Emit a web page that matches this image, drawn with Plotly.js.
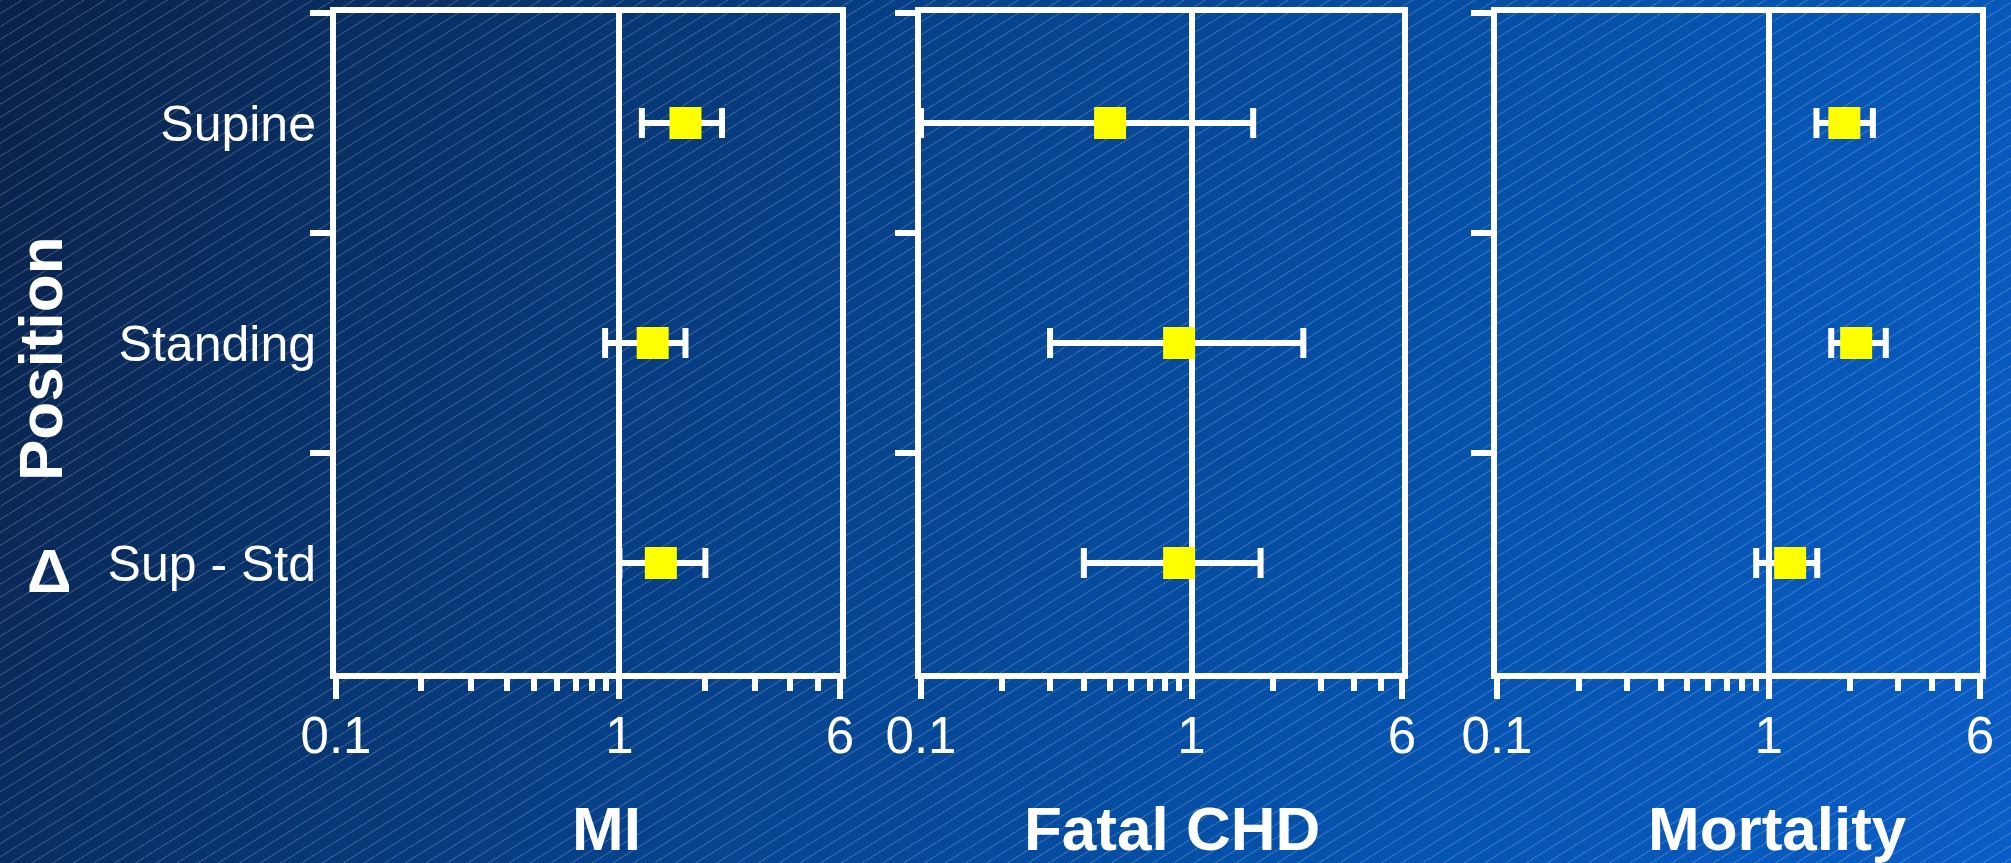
<!DOCTYPE html>
<html>
<head>
<meta charset="utf-8">
<script src="https://cdn.plot.ly/plotly-3.0.1.min.js"></script>
<style>
  html, body { margin: 0; padding: 0; width: 2011px; height: 863px; overflow: hidden; }
  body {
    background:
      repeating-linear-gradient(148deg, rgba(255,255,255,0.16) 0px, rgba(255,255,255,0.16) 1px, rgba(255,255,255,0) 1.6px, rgba(255,255,255,0) 11px),
      linear-gradient(112deg, #0a2148 0%, #06418a 40%, #0552ac 70%, #0a5dc6 100%);
  }
  #chart { width: 2011px; height: 863px; }
</style>
</head>
<body>
<div id="chart"></div>
<script>
// ---- data ----
const categories = ['Supine', 'Standing', 'Sup - Std'];
const panelTitles = ['MI', 'Fatal CHD', 'Mortality'];
const yAxisTitle = 'Position';
const deltaLabel = 'Δ';
const tickValues = [0.1, 1, 6];
const tickLabels = ['0.1', '1', '6'];
const minorTickValues = [0.2, 0.3, 0.4, 0.5, 0.6, 0.7, 0.8, 0.9, 2, 3, 4, 5];

const miEst = [1.71, 1.31, 1.40];
const miLo  = [1.20, 0.89, 1.00];
const miHi  = [2.30, 1.71, 2.01];

const chdEst = [0.50, 0.90, 0.90];
const chdLo  = [0.10, 0.30, 0.40];
const chdHi  = [1.69, 2.59, 1.80];

const mortEst = [1.90, 2.10, 1.20];
const mortLo  = [1.50, 1.70, 0.90];
const mortHi  = [2.42, 2.70, 1.51];

// ---- build ----
const W = 2011, H = 863;
const series = [
  {est: miEst, lo: miLo, hi: miHi},
  {est: chdEst, lo: chdLo, hi: chdHi},
  {est: mortEst, lo: mortLo, hi: mortHi}
];
const xPix = [[336, 840], [921, 1402], [1497, 1980]];
const titleCenters = [606, 1172, 1777];
const yDom = [1 - 673 / H, 1 - 13 / H];

const traces = series.map((s, i) => ({
  type: 'scatter',
  mode: 'markers',
  x: s.est,
  y: categories,
  xaxis: 'x' + (i === 0 ? '' : i + 1),
  yaxis: 'y' + (i === 0 ? '' : i + 1),
  marker: {symbol: 'square', size: 32, color: '#ffff00', line: {width: 0}},
  error_x: {
    type: 'data', symmetric: false,
    array: s.hi.map((h, k) => h - s.est[k]),
    arrayminus: s.lo.map((l, k) => s.est[k] - l),
    color: '#ffffff', thickness: 6, width: 15
  },
  cliponaxis: false,
  hoverinfo: 'skip',
  showlegend: false
}));

const font = {family: 'Liberation Sans, Arial, sans-serif', color: '#ffffff'};
const layout = {
  width: W, height: H,
  margin: {l: 0, r: 0, t: 0, b: 0, pad: 0},
  paper_bgcolor: 'rgba(0,0,0,0)',
  plot_bgcolor: 'rgba(0,0,0,0)',
  font: font,
  showlegend: false,
  annotations: [],
  hovermode: false
};

series.forEach((s, i) => {
  const sx = i === 0 ? '' : String(i + 1);
  layout['xaxis' + sx] = {
    type: 'log',
    domain: [xPix[i][0] / W, xPix[i][1] / W],
    range: [Math.log10(tickValues[0]), Math.log10(tickValues[2])],
    anchor: 'y' + sx,
    tickmode: 'array', tickvals: tickValues, ticktext: tickLabels,
    ticks: 'outside', ticklen: 20, tickwidth: 6, tickcolor: '#ffffff',
    ticklabelstandoff: -7,
    minor: {tickmode: 'array', tickvals: minorTickValues, ticks: 'outside', ticklen: 12, tickwidth: 6, tickcolor: '#ffffff', showgrid: false},
    showline: true, linecolor: '#ffffff', linewidth: 6, mirror: true,
    showgrid: true, gridcolor: '#ffffff', gridwidth: 6,
    zeroline: false,
    tickfont: {family: font.family, size: 51, color: '#ffffff'},
    fixedrange: true
  };
  layout['yaxis' + sx] = {
    type: 'category',
    domain: yDom,
    anchor: 'x' + sx,
    categoryorder: 'array', categoryarray: categories,
    range: [categories.length - 0.5, -0.5],
    ticks: 'outside', tickson: 'boundaries', ticklen: 20, tickwidth: 6, tickcolor: '#ffffff',
    ticklabelstandoff: 4,
    showline: true, linecolor: '#ffffff', linewidth: 6, mirror: true,
    showgrid: false, zeroline: false,
    showticklabels: i === 0,
    tickfont: {family: font.family, size: 50, color: '#ffffff'},
    fixedrange: true
  };
  layout.annotations.push({
    text: '<b>' + panelTitles[i] + '</b>',
    xref: 'paper', yref: 'paper',
    x: titleCenters[i] / W, y: 1 - 828 / H,
    xanchor: 'center', yanchor: 'middle',
    showarrow: false,
    font: {family: font.family, size: 62, color: '#ffffff'}
  });
});

layout.annotations.push({
  text: '<b>' + yAxisTitle + '</b>',
  xref: 'paper', yref: 'paper',
  x: 40 / W, y: 1 - 359 / H,
  xanchor: 'center', yanchor: 'middle',
  textangle: -90, showarrow: false,
  font: {family: font.family, size: 62, color: '#ffffff'}
});
layout.annotations.push({
  text: '<b>' + deltaLabel + '</b>',
  xref: 'paper', yref: 'paper',
  x: 49 / W, y: 1 - 570 / H,
  xanchor: 'center', yanchor: 'middle',
  showarrow: false,
  font: {family: font.family, size: 62, color: '#ffffff'}
});

Plotly.newPlot('chart', traces, layout, {staticPlot: true, displayModeBar: false});
</script>
</body>
</html>
